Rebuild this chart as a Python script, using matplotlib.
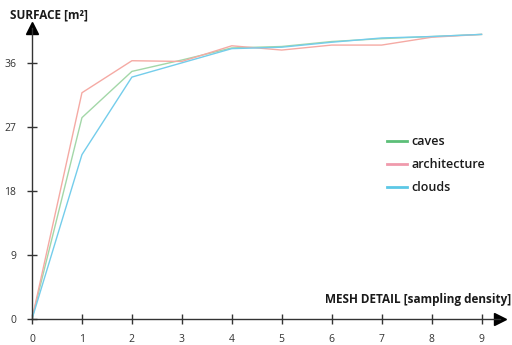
import matplotlib.pyplot as plt

# --- Data ---
mesh_detail = [0, 1, 2, 3, 4, 5, 6, 7, 8, 9]
caves = [0, 28.3, 34.8, 36.4, 38.1, 38.3, 39.0, 39.4, 39.7, 40.0]
architecture = [0, 31.8, 36.3, 36.2, 38.4, 37.8, 38.5, 38.5, 39.6, 40.0]
clouds = [0, 23.1, 34.0, 36.0, 38.0, 38.2, 38.9, 39.5, 39.7, 40.0]
y_ticks = [0, 9, 18, 27, 36]

plt.rcParams['font.family'] = ['Open Sans', 'DejaVu Sans']

fig = plt.figure(figsize=(5.12, 3.45), dpi=100)
ax = fig.add_axes([32 / 512, 1 - 319 / 345, (500 - 32) / 512, (319 - 28) / 345])

ax.plot(mesh_detail, caves, color='#a3d7a8', lw=1.0, label='caves')
ax.plot(mesh_detail, architecture, color='#f5aaa4', lw=1.0, label='architecture')
ax.plot(mesh_detail, clouds, color='#74cdeb', lw=1.0, label='clouds')

ax.set_xlim(0, 9.37)
ax.set_ylim(0, 40.9)
ax.set_xticks(mesh_detail)
ax.set_yticks(y_ticks)

for side in ['top', 'right']:
    ax.spines[side].set_visible(False)
for side in ['left', 'bottom']:
    ax.spines[side].set_color('#333333')
    ax.spines[side].set_linewidth(1.0)

ax.tick_params(direction='inout', length=7, width=1, color='#333333',
               labelsize=7.5, labelcolor='#333333')
ax.tick_params(axis='x', pad=7)
ax.tick_params(axis='y', pad=8)

# arrow heads on the axes
ax.plot(1, 0, '>', color='black', ms=9, transform=ax.transAxes, clip_on=False)
ax.plot(0, 1, '^', color='black', ms=9, transform=ax.transAxes, clip_on=False)

fig.text(10 / 512, 1 - 15 / 345, 'SURFACE [m²]', fontsize=8.5, fontweight='bold',
         color='#1a1a1a', va='center', ha='left')
fig.text(511 / 512, 1 - 299 / 345, 'MESH DETAIL [sampling density]', fontsize=8.5,
         fontweight='bold', color='#1a1a1a', va='center', ha='right')

leg = ax.legend(loc='upper left', bbox_to_anchor=((382 - 32) / 468, (319 - 130) / 291),
                frameon=False, fontsize=9, handlelength=1.6, handletextpad=0.35,
                labelspacing=0.8, borderaxespad=0)
leg_colors = ['#5cbf78', '#f09aac', '#5cc8e6']
for line, c in zip(leg.get_lines(), leg_colors):
    line.set_color(c)
    line.set_linewidth(2)
for t in leg.get_texts():
    t.set_color('#1a1a1a')
    t.set_fontweight('semibold')

fig.savefig('out.png', dpi=100)
